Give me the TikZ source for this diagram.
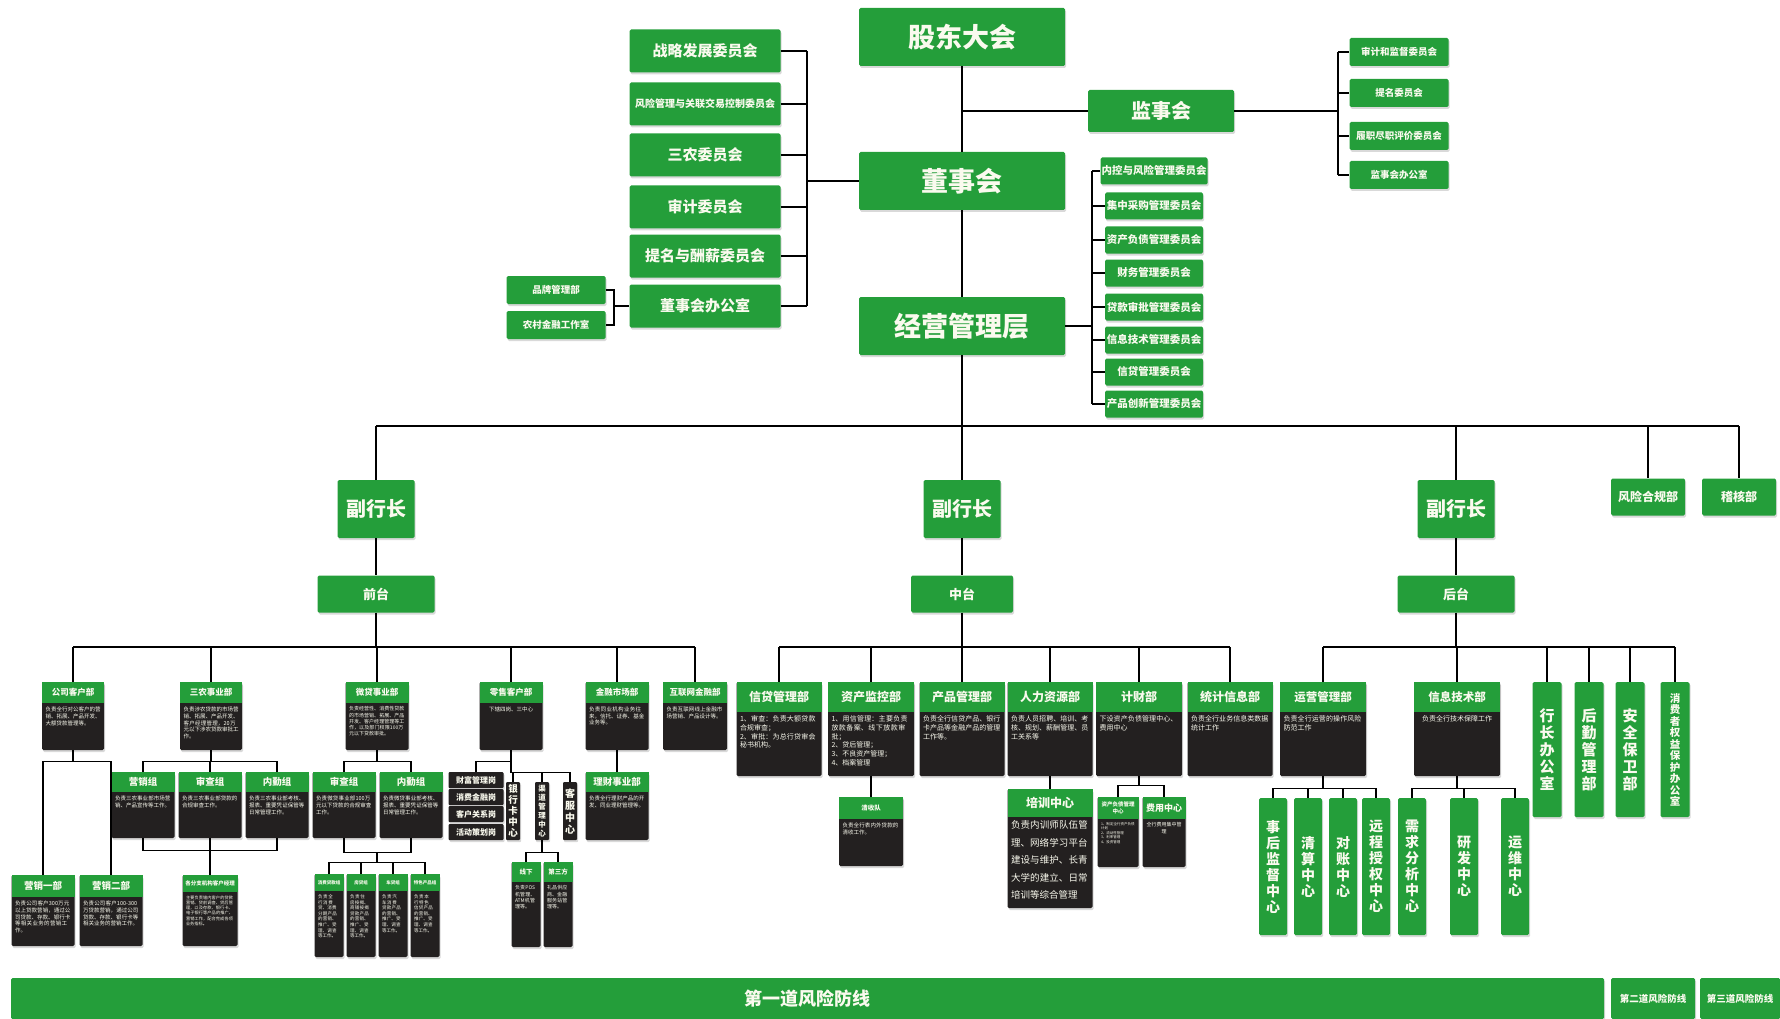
\documentclass[tikz,border=0pt]{standalone}
\usepackage{fontspec}
\setmainfont{Noto Sans CJK SC}
\XeTeXlinebreaklocale "zh"
\XeTeXlinebreakskip=0pt plus 1pt
\usetikzlibrary{shadows}
\definecolor{bgreen}{RGB}{36,158,58}
\definecolor{bdark}{RGB}{35,32,32}
\definecolor{tcol}{RGB}{250,250,238}
\newcommand{\fz}[1]{\fontsize{#1}{\fpeval{1.25*#1}}\selectfont}
\newcommand{\fb}[1]{\bfseries\fz{#1}}
% card: name, x, top, width, height, head height, head size, title, text
\newcommand{\card}[9]{%
  \node[cardbody, minimum width=#4, minimum height=#5] (#1) at (#2,#3) {};
  \node[cardhead, minimum width=#4, minimum height=#6, font=\fb{#7}] (#1-h) at (#1.north) {#8};
  \node[cardtext, text width=#4pt-7pt] at ([yshift=-3pt]#1-h.south) {#9\par};
}
\begin{document}
\begin{tikzpicture}[x=1pt, y=-1pt,
    shd/.style={drop shadow={opacity=0.3, shadow xshift=1.2pt, shadow yshift=-2pt}},
    gbox/.style={fill=bgreen, text=tcol, rounded corners=1.5pt, inner sep=1pt, align=center, shd},
    bignode/.style={gbox, minimum width=206, minimum height=58, font=\fb{27}},
    jshnode/.style={gbox, minimum width=146, minimum height=42, font=\fb{20}},
    lcom/.style={gbox, minimum width=151, minimum height=43, font=\fb{15}},
    scom/.style={gbox, minimum width=99, minimum height=28, font=\fb{9.5}},
    mcom/.style={gbox, minimum width=98, minimum height=27, font=\fb{10.5}},
    vpnode/.style={gbox, minimum width=77, minimum height=58, font=\fb{20}},
    tainode/.style={gbox, minimum width=117, minimum height=37, font=\fb{13}},
    vbox/.style={gbox, anchor=north, minimum width=28, minimum height=137, font=\bfseries\fontsize{14}{16}\selectfont},
    cardbody/.style={fill=bdark, rounded corners=1.5pt, anchor=north, inner sep=0pt, shd},
    cardhead/.style={fill=bgreen, text=tcol, anchor=north, inner sep=0.5pt, align=center},
    cardtext/.style={anchor=north, text=tcol, align=left, inner sep=0pt, font=\fz{5.5}},
    dbox/.style={fill=bdark, text=tcol, rounded corners=1pt, inner sep=0.5pt, align=center, shd},
    conn/.style={line width=2.2pt},
    subline/.style={line width=1.5pt}
]
\useasboundingbox (0,0) rectangle (1780,1019);

% top level
\node[bignode] (gd) at (962,37) {股东大会};
\node[bignode] (dsh) at (962,181) {董事会};
\node[bignode] (jy) at (962,326) {经营管理层};
\node[jshnode] (jsh) at (1161,111) {监事会};

% board committees
\node[lcom] (zl) at (705,51) {战略发展委员会};
\node[lcom, font=\fb{10}] (fk) at (705,104) {风险管理与关联交易控制委员会};
\node[lcom] (snw) at (705,155) {三农委员会};
\node[lcom] (sjw) at (705,207) {审计委员会};
\node[lcom] (tmx) at (705,256) {提名与酬薪委员会};
\node[lcom] (dsb) at (705,306) {董事会办公室};
\node[scom] (ppb) at (556,290) {品牌管理部};
\node[scom] (ncj) at (556,325) {农村金融工作室};

% supervisory committees
\node[scom] (sjjd) at (1399,52) {审计和监督委员会};
\node[scom] (tmw) at (1399,93) {提名委员会};
\node[scom] (lzpj) at (1399,136) {履职尽职评价委员会};
\node[scom] (jsb) at (1399,175) {监事会办公室};

% management committees
\foreach \n/\y/\lbl in {m1/171/内控与风险管理委员会, m2/206/集中采购管理委员会,
    m3/240/资产负债管理委员会, m4/273/财务管理委员会, m5/307/贷款审批管理委员会,
    m6/340/信息技术管理委员会, m7/372/信贷管理委员会, m8/404/产品创新管理委员会}
  \node[mcom] (\n) at (1154,\y) {\lbl};

% vice presidents
\node[vpnode] (vp1) at (376,509) {副行长};
\node[vpnode] (vp2) at (962,509) {副行长};
\node[vpnode] (vp3) at (1456,509) {副行长};
\node[gbox, minimum width=74, minimum height=37, font=\fb{12}] (fgb) at (1648,497) {风险合规部};
\node[gbox, minimum width=74, minimum height=37, font=\fb{12}] (jhb) at (1739,497) {稽核部};
\node[tainode] (qt) at (376,594) {前台};
\node[tainode, minimum width=102] (zt) at (962,594) {中台};
\node[tainode] (ht) at (1456,594) {后台};

% front office
\card{gk}{73}{682}{62}{68}{21}{8.5}{公司客户部}{负责全行对公客户的营销、拓展、产品开发、大额贷款管理等。}
\card{sn}{211}{682}{62}{68}{21}{8.5}{三农事业部}{负责涉农贷款的市场营销、拓展、产品开发、客户经理管理，20万元以下涉农贷款审批工作。}
\card{wd}{377}{682}{63}{68}{21}{8.5}{微贷事业部}{\fz{5}负责经营性、消费性贷款的市场营销、拓展、产品开发、客户经理管理等工作，以及部门权限100万元以下贷款审批。}
\card{ls}{511}{682}{63}{68}{21}{8.5}{零售客户部}{\centering 下辖四岗、三中心}
\card{jr}{617}{682}{63}{68}{21}{8.5}{金融市场部}{负责同业机构业务往来，信托、证券、基金业务等。}
\card{hl}{695}{682}{64}{68}{21}{8.5}{互联网金融部}{负责互联网线上金融市场营销、产品设计等。}

\card{yx1}{43}{875}{63}{71}{22}{9.5}{营销一部}{负责公司客户300万元以上贷款营销，通过公司贷款、存款、银行卡等相关业务的营销工作。}
\card{yx2}{111}{875}{63}{71}{22}{9.5}{营销二部}{负责公司客户100-300万贷款营销，通过公司贷款、存款、银行卡等相关业务的营销工作。}
\card{szx}{143}{772}{63}{66}{20}{9.5}{营销组}{负责三农事业部市场营销、产品宣传等工作。}
\card{scz}{210}{772}{63}{66}{20}{9.5}{审查组}{负责三农事业部贷款的合规审查工作。}
\card{snq}{277}{772}{63}{66}{20}{9.5}{内勤组}{负责三农事业部考核、报表、重要凭证保管等日常管理工作。}
\card{wsc}{344}{772}{63}{66}{20}{9.5}{审查组}{负责微贷事业部100万元以下贷款的合规审查工作。}
\card{wnq}{411}{772}{63}{66}{20}{9.5}{内勤组}{负责微贷事业部考核、报表、重要凭证保管等日常管理工作。}
\card{khjl}{210}{875}{55}{71}{17}{5.5}{各分支机构客户经理}{\fz{4.2}主要负责辖内客户的贷款营销、贷前调查、贷后管理，以及存款、银行卡、电子银行等产品的推广、营销工作，配合完成各项业务指标。}
\card{xfd}{329}{874}{29}{83}{17}{4.5}{消费贷款组}{\fz{4.5}负责全行消费贷、消费分期产品的营销、推广、受理、调查等工作。}
\card{fdz}{361}{874}{29}{83}{17}{4.5}{房贷组}{\fz{4.5}负责住房按揭、商铺按揭贷款产品的营销、推广、受理、调查等工作。}
\card{cdz}{393}{874}{29}{83}{17}{4.5}{车贷组}{\fz{4.5}负责汽车消费贷款产品的营销、推广、受理、调查等工作。}
\card{tsz}{425}{874}{29}{83}{17}{4.5}{特色产品组}{\fz{4.5}负责本行特色信贷产品的营销、推广、受理、调查等工作。}

\foreach \n/\y/\lbl in {cf/780/财富管理岗, xj/797/消费金融岗, kg/814/客户关系岗, hd/832/活动策划岗}
  \node[dbox, minimum width=55, minimum height=16, font=\fb{8}] (\n) at (476,\y) {\lbl};
\node[dbox, anchor=north, minimum width=14, minimum height=58, font=\bfseries\fontsize{9.5}{11}\selectfont] (yhk) at (513,782) {银\\行\\卡\\中\\心};
\node[dbox, anchor=north, minimum width=14, minimum height=58, font=\bfseries\fontsize{7.5}{9}\selectfont] (qdz) at (542,782) {渠\\道\\管\\理\\中\\心};
\node[dbox, anchor=north, minimum width=14, minimum height=58, font=\bfseries\fontsize{10}{12}\selectfont] (kfz) at (570,782) {客\\服\\中\\心};
\card{xia}{526}{862}{29}{85}{20}{6.5}{线下}{\fz{5}负责POS机管理、ATM机管理等。}
\card{dsf}{558}{862}{29}{85}{20}{6.5}{第三方}{\fz{5}礼品供应商、金融服务站管理等。}
\card{lc}{617}{772}{63}{68}{20}{9.5}{理财事业部}{负责全行理财产品的开发、同业理财管理等。}

% middle office
\card{xd}{779}{682}{85}{94}{30}{12}{信贷管理部}{\fz{7}1、审查：负责大额贷款合规审查；\\2、审批：为总行贷审会秘书机构。}
\card{zj}{871}{682}{86}{94}{30}{12}{资产监控部}{\fz{7}1、用信管理：主要负责放款备案、线下放款审批；\\2、贷后管理；\\3、不良资产管理；\\4、档案管理}
\card{cp}{962}{682}{85}{94}{30}{12}{产品管理部}{\fz{7}负责全行信贷产品、银行卡产品等金融产品的管理工作等。}
\card{rl}{1050}{682}{85}{94}{30}{12}{人力资源部}{\fz{7}负责人员招聘、培训、考核、规划、薪酬管理、员工关系等}
\card{jc}{1139}{682}{86}{94}{30}{12}{计财部}{\fz{7}下设资产负债管理中心、费用中心}
\card{tj}{1230}{682}{85}{94}{30}{12}{统计信息部}{\fz{7}负责全行业务信息类数据统计工作}
\card{qs}{871}{797}{64}{69}{22}{6.5}{清收队}{负责全行表内外贷款的清收工作。}
\card{px}{1050}{789}{85}{119}{28}{12}{培训中心}{\fontsize{9.5}{17.5}\selectfont 负责内训师队伍管理、网络学习平台建设与维护、长青大学的建立、日常培训等综合管理}
\card{zf}{1118}{797}{41}{70}{22}{5.5}{资产负债管理\\中心}{\fz{3.5}1、制定全行资产负债计划\\2、流动性管理\\3、利率管理\\4、投资管理}
\card{fy}{1164}{797}{43}{70}{22}{9}{费用中心}{\fz{5}\centering 全行费用集中管理}

% back office
\card{yy}{1323}{682}{86}{94}{30}{11.5}{运营管理部}{\fz{7}负责全行运营的操作风险防范工作}
\card{xx}{1457}{682}{86}{94}{30}{11.5}{信息技术部}{\fz{7}\centering\vspace*{6pt}负责全行技术保障工作}
\node[vbox, minimum width=29, minimum height=135, font=\bfseries\fontsize{15}{17}\selectfont] (hz) at (1547,682) {行\\长\\办\\公\\室};
\node[vbox, minimum width=29, minimum height=135, font=\bfseries\fontsize{15}{17}\selectfont] (hq) at (1589,682) {后\\勤\\管\\理\\部};
\node[vbox, minimum width=29, minimum height=135, font=\bfseries\fontsize{15}{17}\selectfont] (aq) at (1630,682) {安\\全\\保\\卫\\部};
\node[vbox, minimum width=29, minimum height=135, font=\bfseries\fontsize{10.5}{11.5}\selectfont] (xfb) at (1675,682) {消\\费\\者\\权\\益\\保\\护\\办\\公\\室};
\foreach \n/\x/\lbl in {sh/1273/事\\后\\监\\督\\中\\心, qsz/1308/清\\算\\中\\心, dz/1343/对\\账\\中\\心,
    yc/1376/远\\程\\授\\权\\中\\心, xq/1412/需\\求\\分\\析\\中\\心, yf/1464/研\\发\\中\\心, yw/1515/运\\维\\中\\心}
  \node[vbox] (\n) at (\x,798) {\lbl};

% lines of defence
\node[gbox, minimum width=1593, minimum height=41, font=\fb{18}] (fx1) at (807.5,998.5) {第一道风险防线};
\node[gbox, minimum width=84, minimum height=41, font=\fb{9.5}] (fx2) at (1653,998.5) {第二道风险防线};
\node[gbox, minimum width=80, minimum height=41, font=\fb{9.5}] (fx3) at (1740,998.5) {第三道风险防线};

% connections: top
\draw[conn] (gd) -- (dsh) -- (jy);
\draw[conn] (gd.south |- jsh.west) -- (jsh.west);
\coordinate (sbr) at (1338,111);
\draw[conn] (jsh.east) -- (sbr);
\draw[conn] (sbr |- sjjd.west) -- (sbr |- jsb.west);
\foreach \n in {sjjd,tmw,lzpj,jsb} \draw[conn] (sbr |- \n.west) -- (\n.west);
\coordinate (lbr) at (807,181);
\draw[conn] (dsh.west) -- (lbr);
\draw[conn] (lbr |- zl.east) -- (lbr |- dsb.east);
\foreach \n in {zl,fk,snw,sjw,tmx,dsb} \draw[conn] (\n.east) -- (lbr |- \n.east);
\coordinate (pbr) at (614,306);
\draw[conn] (ppb.east) -- (pbr |- ppb.east) -- (pbr |- ncj.east) -- (ncj.east);
\draw[conn] (pbr |- dsb.west) -- (dsb.west);
\coordinate (mbr) at (1092,326);
\draw[conn] (jy.east) -- (mbr);
\draw[conn] (mbr |- m1.west) -- (mbr |- m8.west);
\foreach \n in {m1,m2,m3,m4,m5,m6,m7,m8} \draw[conn] (mbr |- \n.west) -- (\n.west);

% connections: vice presidents
\coordinate (bus) at (962,426);
\draw[conn] (jy) -- (bus);
\draw[conn] (vp1.north |- bus) -- (jhb.north |- bus);
\foreach \n in {vp1,vp2,vp3,fgb,jhb} \draw[conn] (\n.north |- bus) -- (\n.north);
\draw[conn] (vp1) -- (qt);
\draw[conn] (vp2) -- (zt);
\draw[conn] (vp3) -- (ht);

% connections: departments
\coordinate (fbus) at (376,647);
\draw[conn] (qt) -- (fbus);
\draw[conn] (gk.north |- fbus) -- (hl.north |- fbus);
\foreach \n in {gk,sn,wd,ls,jr,hl} \draw[subline] (\n.north |- fbus) -- (\n.north);
\coordinate (mbus) at (962,647);
\draw[conn] (zt) -- (mbus);
\draw[conn] (xd.north |- mbus) -- (tj.north |- mbus);
\foreach \n in {xd,zj,cp,rl,jc,tj} \draw[subline] (\n.north |- mbus) -- (\n.north);
\coordinate (bbus) at (1456,647);
\draw[conn] (ht) -- (bbus);
\draw[conn] (yy.north |- bbus) -- (xfb.north |- bbus);
\foreach \n in {yy,xx,hz,hq,aq,xfb} \draw[subline] (\n.north |- bbus) -- (\n.north);

% connections: sub units
\draw[subline] (gk.south) -- ++(0,11) -| (yx1.north);
\draw[subline] (gk.south) ++(0,11) -| (yx2.north);
\foreach \n in {szx,scz,snq} \draw[subline] (sn.south) -- ++(0,11) -| (\n.north);
\draw[subline] (szx.south) -- ++(0,12) -| (snq.south);
\draw[subline] (scz.south) -- (khjl.north);
\foreach \n in {wsc,wnq} \draw[subline] (wd.south) -- ++(0,11) -| (\n.north);
\draw[subline] (wsc.south) -- ++(0,14) -| (wnq.south);
\foreach \n in {xfd,fdz,cdz,tsz} \draw[subline] (wd.south |- wsc.south) ++(0,14) -- ++(0,10) -| (\n.north);
\draw[subline] (ls.south) -- ++(0,11) -| (cf.north);
\foreach \n in {yhk,qdz,kfz} \draw[subline] (ls.south) -- ++(0,22) -| (\n.north);
\foreach \n in {xia,dsf} \draw[subline] (qdz.south) -- ++(0,12) -| (\n.north);
\draw[subline] (jr) -- (lc);
\draw[subline] (zj) -- (qs);
\draw[subline] (rl) -- (px);
\foreach \n in {zf,fy} \draw[subline] (jc.south) -- ++(0,9) -| (\n.north);
\foreach \n in {sh,qsz,dz,yc} \draw[subline] (yy.south) -- ++(0,12) -| (\n.north);
\foreach \n in {xq,yf,yw} \draw[subline] (xx.south) -- ++(0,12) -| (\n.north);
\end{tikzpicture}
\end{document}
